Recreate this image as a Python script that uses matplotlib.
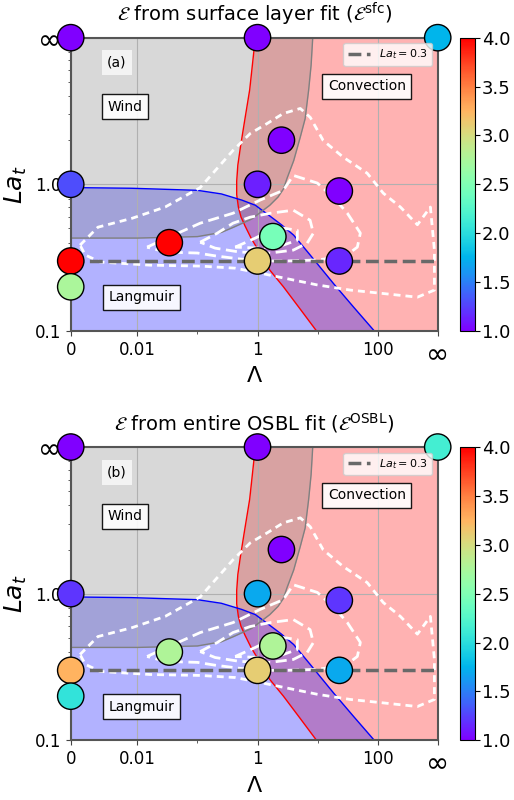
import numpy as np
import matplotlib
matplotlib.use("Agg")
import matplotlib.pyplot as plt
from matplotlib.lines import Line2D

# axis positions used for "0" and "infinity"
LAM0 = 10 ** -3.11
LAMINF = 1e3
LAMIN = 0.1
LAINF = 10.0

# measured points (0 -> left edge, inf -> right/top edge)
pt_lam = [0, 1, np.inf, 0, 1, 2.5, 23, 23, 1.8, 1, 0.034, 0, 0]
pt_la = [np.inf, np.inf, np.inf, 1.0, 1.0, 2.0, 0.9, 0.3, 0.44, 0.3, 0.4, 0.3, 0.2]
eps_sfc = [1.0, 1.0, 1.75, 1.3, 1.12, 1.0, 1.0, 1.15, 2.45, 3.1, 4.0, 4.0, 2.75]
eps_osbl = [1.0, 1.0, 2.15, 1.2, 1.7, 1.0, 1.2, 1.7, 2.78, 3.1, 2.78, 3.25, 2.05]

# regime boundaries
red_lam = [0.92, 0.74, 0.6, 0.52, 0.47, 0.45, 0.45, 0.48, 0.53, 0.62, 0.78, 1.1, 1.6, 2.7, 5.0, 9.6]
red_la = [10, 4.4, 2.6, 1.8, 1.35, 1.05, 0.85, 0.7, 0.6, 0.52, 0.43, 0.34, 0.26, 0.2, 0.143, 0.1]

blue_lam = [LAM0, 0.008, 0.1, 0.25, 0.55, 0.92, 1.43, 2.5, 4.0, 7.5, 18.5, 40, 88]
blue_la = [0.95, 0.94, 0.91, 0.86, 0.78, 0.72, 0.63, 0.53, 0.45, 0.33, 0.21, 0.145, 0.1]

gray_lam = [LAM0, 0.01, 0.1, 0.25, 0.4, 0.8, 1.6, 2.2, 2.7, 3.1, 4.0, 5.15, 6.2, 7.1, 7.8, 8.3]
gray_la = [0.43, 0.43, 0.44, 0.47, 0.51, 0.58, 0.72, 0.82, 0.93, 1.1, 1.45, 2.1, 2.8, 4.4, 6.5, 10]

# white dashed contours
c1_lam = [0.00111, 0.0022, 0.0082, 0.029, 0.111, 0.39, 0.755, 1.45, 2.68, 5.15, 7.55, 12.4,
          26.8, 67, 124, 239, 459, 755, 881, 881, 459, 124, 35, 9.9, 2.68, 1.1, 0.425,
          0.111, 0.0163, 0.0024, 0.00135, 0.00111]
c1_la = [0.385, 0.51, 0.587, 0.70, 0.95, 1.70, 2.22, 2.60, 3.04, 3.29, 2.86, 1.99,
         1.53, 1.19, 0.87, 0.70, 0.53, 0.70, 0.356, 0.19, 0.17, 0.18, 0.19, 0.206, 0.23,
         0.248, 0.268, 0.277, 0.281, 0.295, 0.33, 0.385]
c2_lam = [0.0145, 0.031, 0.111, 0.39, 1.1, 2.68, 3.94, 9.9, 18.3, 31.3, 51.5, 45.9, 29,
          10, 3.0, 1.1, 0.5, 0.2, 0.1, 0.03, 0.0145]
c2_la = [0.373, 0.43, 0.543, 0.635, 0.78, 0.91, 1.15, 1.02, 0.816, 0.635, 0.465, 0.373,
         0.324, 0.305, 0.30, 0.30, 0.31, 0.325, 0.34, 0.345, 0.373]
c3_lam = [0.111, 0.213, 0.39, 0.755, 1.63, 3.94, 7.5, 8.5, 6.7, 3.94, 1.63, 0.51, 0.197, 0.111]
c3_la = [0.403, 0.464, 0.543, 0.597, 0.635, 0.666, 0.569, 0.464, 0.397, 0.356, 0.34,
         0.345, 0.367, 0.403]
c4_lam = [0.425, 0.92, 2.13, 4.6, 4.6, 2.68, 1.1, 0.425]
c4_la = [0.373, 0.43, 0.51, 0.486, 0.416, 0.385, 0.367, 0.373]

titles = [r"$\mathcal{E}$ from surface layer fit ($\mathcal{E}^{\rm sfc}$)",
          r"$\mathcal{E}$ from entire OSBL fit ($\mathcal{E}^{\rm OSBL}$)"]
panel_tags = ["(a)", "(b)"]
cbar_ticks = [1.0, 1.5, 2.0, 2.5, 3.0, 3.5, 4.0]


def to_axis(vals, zero, inf):
    v = np.array(vals, dtype=float)
    v[v == 0] = zero
    v[np.isinf(v)] = inf
    return v


fig = plt.figure(figsize=(5.14, 8.0), dpi=100)
axes_pos = [[0.1376, 0.5863, 0.714, 0.3666], [0.1376, 0.0746, 0.714, 0.3666]]
cbar_pos = [[0.895, 0.5863, 0.029, 0.3666], [0.895, 0.0746, 0.029, 0.3666]]

x_pts = to_axis(pt_lam, LAM0, LAMINF)
y_pts = to_axis(pt_la, 0, LAINF)

for i, eps in enumerate([eps_sfc, eps_osbl]):
    ax = fig.add_axes(axes_pos[i])
    ax.set_xscale("log")
    ax.set_yscale("log")
    ax.set_xlim(LAM0, LAMINF)
    ax.set_ylim(LAMIN, LAINF)

    # regimes
    ax.fill_betweenx(red_la, red_lam, LAMINF, color="red", alpha=0.3, lw=0)
    ax.fill_between(blue_lam, LAMIN, blue_la, color="blue", alpha=0.3, lw=0)
    ax.fill_between(gray_lam, gray_la, LAINF, color="gray", alpha=0.3, lw=0)
    ax.plot(red_lam, red_la, color="red", lw=1)
    ax.plot(blue_lam, blue_la, color="blue", lw=1)
    ax.plot(gray_lam, gray_la, color="gray", lw=1)

    ax.plot(c1_lam, c1_la, color="white", lw=2, ls=(0, (2.5, 1.8)))
    for cx, cy in [(c2_lam, c2_la), (c3_lam, c3_la), (c4_lam, c4_la)]:
        ax.plot(cx, cy, color="white", lw=2, ls=(0, (4, 2)))

    ax.axhline(0.3, color="dimgray", lw=2.5, ls="--", zorder=3)

    sc = ax.scatter(x_pts, y_pts, c=eps, cmap="rainbow", vmin=1, vmax=4, s=360,
                    edgecolors="black", linewidths=1, zorder=5, clip_on=False)

    ax.grid(True, which="major", color="#b0b0b0", lw=0.8)
    ax.set_xticks([LAM0, 0.01, 1, 100, LAMINF])
    ax.set_xticklabels(["0", "0.01", "1", "100", "∞"], fontsize=12)
    ax.set_xticks([0.1, 10], minor=True)
    ax.set_xticklabels([], minor=True)
    ax.get_xticklabels()[-1].set_fontsize(20)
    ax.set_yticks([0.1, 1.0, LAINF])
    ax.set_yticklabels(["0.1", "1.0", "∞"], fontsize=12)
    ax.get_yticklabels()[-1].set_fontsize(20)
    ax.tick_params(which="both", colors="#444444", labelcolor="black")
    for sp in ax.spines.values():
        sp.set_color("#555555")
        sp.set_linewidth(1.5)

    ax.set_xlabel("Λ", fontsize=16, va="center")
    ax.xaxis.set_label_coords(0.5, -0.155)
    ax.set_ylabel(r"$La_t$", fontsize=18)
    ax.set_title(titles[i], fontsize=14, pad=12)

    ax.text(0.126, 0.914, panel_tags[i], transform=ax.transAxes, fontsize=10,
            ha="center", va="center",
            bbox=dict(facecolor="white", edgecolor="none", alpha=0.7))
    box = dict(facecolor="white", edgecolor="black", alpha=0.9)
    ax.text(0.148, 0.764, "Wind", transform=ax.transAxes, fontsize=10,
            ha="center", va="center", bbox=box)
    ax.text(0.807, 0.835, "Convection", transform=ax.transAxes, fontsize=10,
            ha="center", va="center", bbox=box)
    ax.text(0.193, 0.115, "Langmuir", transform=ax.transAxes, fontsize=10,
            ha="center", va="center", bbox=box)

    h = Line2D([], [], color="dimgray", lw=2.5, ls="--")
    ax.legend([h], [r"$La_t = 0.3$"], loc="upper right", fontsize=8)

    cax = fig.add_axes(cbar_pos[i])
    cb = fig.colorbar(sc, cax=cax, ticks=cbar_ticks)
    cb.ax.set_yticklabels(["%.1f" % t for t in cbar_ticks], fontsize=13)
    cb.ax.tick_params(length=3.5, pad=1.5)

fig.savefig("out.png", dpi=100)
